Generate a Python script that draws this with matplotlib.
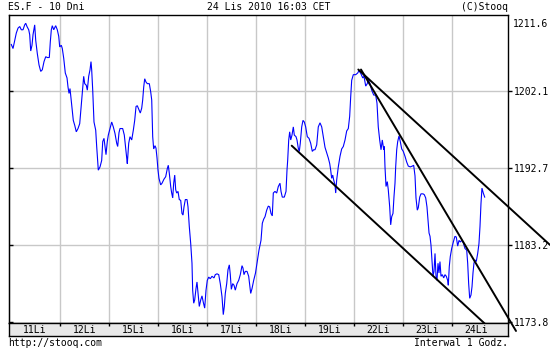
import matplotlib
matplotlib.use('Agg')
import matplotlib.pyplot as plt

plt.rcParams['font.family'] = ['DejaVu Sans Mono']

# ---- data (time in trading days from start, price) ----
t_days = [0.015,0.050,0.085,0.117,0.152,0.187,0.219,0.254,0.288,0.309,0.335,0.370,0.390,0.411,0.437,0.458,0.492,0.513,0.545,0.580,
          0.615,0.647,0.682,0.717,0.749,0.790,0.810,0.831,0.851,0.880,0.920,0.953,0.982,1.002,1.035,1.055,1.084,1.116,1.151,1.171,
          1.192,1.212,1.239,1.259,1.279,1.308,1.340,1.375,1.410,1.442,1.471,1.491,1.512,1.544,1.565,1.593,1.620,1.640,1.654,1.675,
          1.687,1.701,1.736,1.756,1.789,1.824,1.858,1.879,1.905,1.946,1.972,1.993,2.028,2.062,2.095,2.129,2.164,2.184,2.211,2.231,
          2.286,2.319,2.348,2.368,2.380,2.409,2.435,2.470,2.503,2.531,2.558,2.584,2.619,2.645,2.674,2.694,2.715,2.735,2.761,2.788,
          2.829,2.857,2.878,2.898,2.918,2.945,2.965,2.986,3.006,3.026,3.061,3.088,3.128,3.163,3.196,3.216,3.237,3.265,3.285,3.306,
          3.326,3.347,3.367,3.387,3.414,3.440,3.469,3.495,3.516,3.536,3.563,3.598,3.618,3.644,3.673,3.699,3.713,3.734,3.754,3.781,
          3.801,3.822,3.848,3.877,3.903,3.930,3.958,3.985,4.011,4.040,4.072,4.107,4.148,4.174,4.209,4.244,4.276,4.311,4.337,4.358,
          4.378,4.407,4.433,4.460,4.480,4.501,4.529,4.556,4.582,4.617,4.651,4.684,4.719,4.739,4.759,4.786,4.821,4.855,4.876,4.896,
          4.923,4.957,4.994,5.024,5.065,5.106,5.133,5.161,5.188,5.222,5.255,5.283,5.310,5.336,5.357,5.391,5.426,5.459,5.493,5.514,
          5.540,5.581,5.616,5.636,5.650,5.671,5.691,5.712,5.738,5.765,5.785,5.820,5.840,5.866,5.887,5.907,5.936,5.962,5.989,6.017,
          6.050,6.085,6.119,6.152,6.180,6.207,6.242,6.274,6.309,6.344,6.376,6.411,6.446,6.478,6.507,6.527,6.547,6.568,6.588,6.615,
          6.629,6.649,6.682,6.717,6.751,6.784,6.819,6.853,6.886,6.914,6.935,6.955,6.988,7.037,7.077,7.104,7.145,7.180,7.206,7.241,
          7.273,7.294,7.328,7.363,7.404,7.444,7.471,7.497,7.526,7.553,7.579,7.608,7.620,7.634,7.655,7.681,7.701,7.730,7.750,7.771,
          7.797,7.818,7.838,7.852,7.873,7.893,7.920,7.946,7.975,8.007,8.042,8.076,8.109,8.150,8.191,8.219,8.246,8.266,8.293,8.313,
          8.342,8.368,8.409,8.435,8.464,8.490,8.511,8.532,8.552,8.572,8.592,8.613,8.633,8.654,8.674,8.694,8.715,8.735,8.755,8.776,
          8.802,8.831,8.857,8.884,8.912,8.925,8.945,8.965,8.994,9.027,9.061,9.088,9.116,9.143,9.169,9.198,9.230,9.265,9.300,9.320,
          9.340,9.361,9.387,9.408,9.428,9.448,9.469,9.495,9.524,9.550,9.571,9.591,9.611,9.638,9.667]

price = [1207.8,1207.3,1208.3,1209.2,1209.8,1210.0,1209.6,1209.6,1210.2,1210.4,1210.0,1209.6,1209.0,1207.0,1207.7,1209.0,1210.2,1208.3,1206.7,1205.3,
         1204.5,1204.7,1205.7,1206.3,1206.2,1206.2,1208.1,1209.6,1210.1,1209.6,1210.1,1209.6,1208.8,1207.5,1207.7,1207.3,1206.1,1204.3,1203.7,1202.6,
         1201.8,1202.4,1200.8,1199.6,1198.5,1197.9,1197.1,1197.5,1198.1,1200.4,1202.6,1203.9,1203.0,1202.8,1202.2,1203.9,1204.7,1205.7,1204.7,1202.2,
         1200.4,1198.3,1197.3,1195.3,1192.4,1192.8,1193.6,1195.9,1196.3,1194.3,1195.9,1196.7,1197.5,1198.3,1197.7,1196.9,1195.7,1195.3,1197.0,1197.5,
         1197.5,1196.7,1195.1,1193.9,1193.2,1195.7,1196.5,1196.1,1197.3,1198.5,1200.2,1200.3,1199.8,1199.4,1200.0,1201.0,1202.6,1203.6,1203.2,1203.0,
         1203.0,1202.0,1201.0,1196.5,1195.0,1195.4,1195.1,1193.9,1192.4,1191.4,1190.6,1190.8,1191.3,1191.6,1192.6,1193.0,1192.0,1190.4,1189.6,1189.0,
         1190.8,1191.8,1190.0,1189.6,1189.8,1188.8,1188.7,1187.1,1186.9,1187.9,1188.8,1188.8,1187.9,1185.5,1183.4,1181.0,1177.7,1176.1,1176.5,1177.9,
         1178.7,1177.3,1175.7,1176.5,1177.0,1176.2,1175.5,1177.7,1178.9,1179.3,1179.1,1179.4,1179.2,1179.6,1179.7,1179.6,1178.5,1176.9,1174.7,1175.7,
         1177.3,1178.5,1180.2,1180.8,1179.6,1177.8,1178.5,1178.3,1177.7,1178.5,1178.9,1179.6,1180.7,1180.4,1179.6,1180.0,1180.0,1179.4,1178.3,1177.3,
         1177.9,1178.9,1179.8,1181.0,1182.6,1183.8,1185.9,1186.4,1186.7,1187.5,1188.0,1187.9,1187.1,1186.8,1189.6,1189.8,1189.6,1190.4,1190.8,1189.8,
         1189.1,1189.1,1189.8,1192.4,1193.6,1196.1,1197.1,1196.1,1196.7,1197.7,1196.7,1196.5,1196.1,1195.1,1194.7,1195.7,1197.7,1198.5,1198.3,1197.7,
         1196.5,1196.3,1195.7,1194.7,1194.9,1194.9,1195.5,1197.7,1198.2,1197.7,1196.5,1195.2,1194.5,1193.9,1193.2,1192.4,1191.4,1191.8,1191.2,1190.6,
         1189.6,1191.2,1192.8,1194.1,1195.0,1195.3,1196.1,1197.2,1197.5,1199.0,1201.4,1203.4,1204.1,1204.1,1204.3,1204.6,1204.2,1203.7,1203.9,1202.7,
         1203.0,1203.5,1203.0,1202.2,1201.6,1201.6,1200.6,1197.7,1196.1,1194.9,1196.1,1194.9,1195.3,1192.8,1190.4,1191.0,1190.0,1187.9,1185.7,1186.7,
         1187.1,1189.2,1190.8,1192.8,1194.9,1195.9,1196.6,1195.9,1195.0,1194.7,1194.1,1193.4,1192.9,1192.8,1192.9,1193.0,1191.7,1189.0,1187.5,1187.8,
         1189.1,1189.5,1189.5,1189.4,1189.0,1187.9,1186.3,1184.7,1184.3,1183.2,1181.4,1179.4,1180.0,1182.2,1179.4,1178.9,1181.0,1179.8,1181.2,1179.4,
         1179.6,1179.2,1179.6,1179.4,1178.9,1178.3,1180.6,1181.8,1182.8,1183.6,1184.3,1184.2,1183.1,1183.8,1183.6,1183.8,1183.5,1182.8,1182.6,1181.0,
         1178.5,1176.7,1177.1,1178.1,1179.8,1181.0,1181.4,1181.2,1182.2,1183.4,1185.5,1188.3,1190.2,1189.6,1189.1]

if len(t_days) != len(price):
    raise SystemExit('length mismatch %d %d' % (len(t_days), len(price)))

day_labels = ['11Li', '12Li', '15Li', '16Li', '17Li', '18Li', '19Li', '22Li', '23Li', '24Li']
ytick_values = [1173.8, 1183.2, 1192.7, 1202.1]
ytick_labels = ['1173.8', '1183.2', '1192.7', '1202.1']
top_label = '1211.6'

# user-drawn trend lines (start day, start price, end day, end price)
trend_t0 = [7.090, 7.145, 5.732]
trend_p0 = [1204.73, 1204.73, 1195.40]
trend_t1 = [10.998, 10.305, 9.842]
trend_p1 = [1183.24, 1172.70, 1172.64]

title_left = 'ES.F - 10 Dni'
title_mid = '24 Lis 2010 16:03 CET'
title_right = '(C)Stooq'
foot_left = 'http://stooq.com'
foot_right = 'Interwal 1 Godz.'

# ---- layout ----
W, H = 550.0, 350.0
FS = 7
GRID = '#c8c8c8'

def fx(px):
    return px / W

def fy(py):
    return 1 - py / H

fig = plt.figure(figsize=(5.5, 3.5), dpi=100)
fig.patch.set_facecolor('white')

L, R, T, B, SB = 8.5, 508.0, 15.0, 323.3, 335.5
ax = fig.add_axes([fx(L), fy(B), (R - L) / W, (B - T) / H])
ax.set_facecolor('white')
ax.set_xlim(-0.042, 10.142)
ax.set_ylim(1173.64, 1211.41)

for d in range(1, 10):
    ax.axvline(d, color=GRID, lw=1.0, zorder=0)
for v in ytick_values[1:]:
    ax.axhline(v, color=GRID, lw=1.0, zorder=0)

ax.plot(t_days, price, color='#0000ff', lw=0.8, zorder=3, solid_joinstyle='miter')

for a0, b0, a1, b1 in zip(trend_t0, trend_p0, trend_t1, trend_p1):
    ax.plot([a0, a1], [b0, b1], color='black', lw=1.4, clip_on=False, zorder=5,
            solid_capstyle='round')

ax.set_xticks([])
ax.yaxis.tick_right()
ax.set_yticks(ytick_values, labels=ytick_labels)
ax.tick_params(axis='y', direction='out', length=3, width=1, pad=1.2,
               labelsize=FS, colors='black', right=True, left=False)
sec = ax.secondary_yaxis('left')
sec.set_yticks(ytick_values)
sec.tick_params(direction='in', length=3, width=1, labelleft=False)
for sp in ax.spines.values():
    sp.set_color('black')
    sp.set_linewidth(1.0)

fig.text(fx(512.5), fy(24.3), top_label, fontsize=FS, ha='left', va='center')

# day strip
sax = fig.add_axes([fx(L), fy(SB), (R - L) / W, (SB - B) / H])
sax.set_facecolor('#e8e8e8')
sax.set_xlim(-0.042, 10.142)
sax.set_ylim(0, 1)
sax.set_yticks([])
sax.set_xticks(range(1, 10))
sax.tick_params(axis='x', direction='in', length=2.2, width=1, top=True, bottom=False,
                labelbottom=False)
for sp in sax.spines.values():
    sp.set_color('black')
    sp.set_linewidth(1.0)
for i, lab in enumerate(day_labels):
    sax.text(i + 0.5, 0.45, lab, fontsize=FS, ha='center', va='center')

# titles / footer
fig.text(fx(8.4), fy(7.5), title_left, fontsize=FS, ha='left', va='center')
fig.text(fx(269), fy(7.5), title_mid, fontsize=FS, ha='center', va='center')
fig.text(fx(508), fy(7.5), title_right, fontsize=FS, ha='right', va='center')
fig.text(fx(8.4), fy(343.5), foot_left, fontsize=FS, ha='left', va='center')
fig.text(fx(508), fy(343.5), foot_right, fontsize=FS, ha='right', va='center')

fig.savefig('out.png', dpi=100)
